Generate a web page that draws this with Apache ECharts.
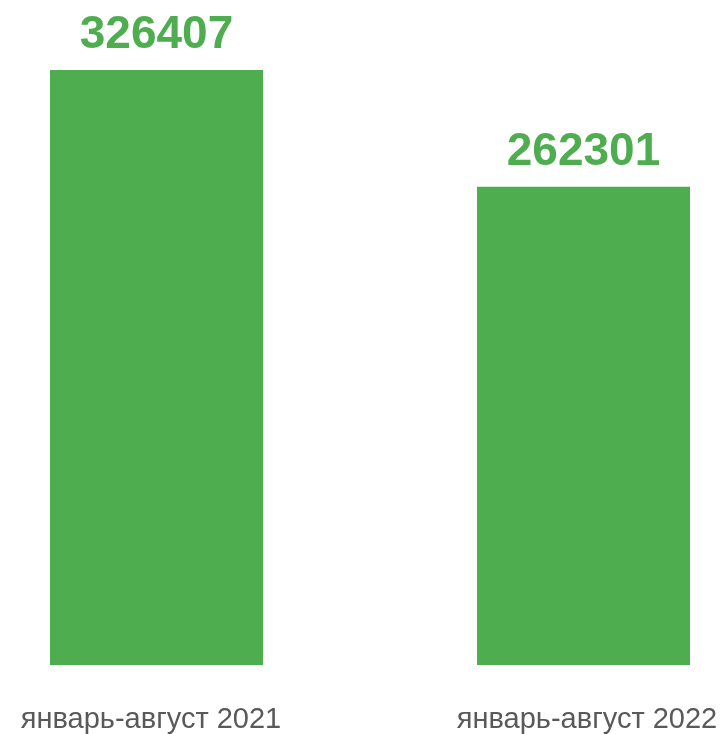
<!DOCTYPE html>
<html><head><meta charset="utf-8">
<script src="https://cdn.jsdelivr.net/npm/echarts@6/dist/echarts.min.js"></script>
<style>html,body{margin:0;padding:0;background:#fff;overflow:hidden;width:726px;height:734px;position:relative}#c{position:absolute;left:-57px;top:0;width:854px;height:734px}</style>
</head><body><div id="c"></div>
<script>
const categories = ['январь-август 2021', 'январь-август 2022'];
const values = [326407, 262301];

const chart = echarts.init(document.getElementById('c'));
const lbl = { color: '#595959', fontSize: 29, fontFamily: 'Liberation Sans, Arial' };
chart.setOption({
  animation: false,
  grid: { left: 0, right: 0, top: 70, bottom: 68 },
  xAxis: {
    type: 'category', data: categories,
    axisLine: { show: false }, axisTick: { show: false },
    axisLabel: {
      margin: 40, interval: 0,
      formatter: function (v, i) { return i === 0 ? '{a|' + v + '}' : '{b|' + v + '}'; },
      rich: {
        a: Object.assign({ padding: [0, 11, 0, 0] }, lbl),
        b: Object.assign({ padding: [0, 0, 0, 7] }, lbl)
      }
    }
  },
  yAxis: { type: 'value', min: 0, max: 326407, show: false, splitLine: { show: false } },
  series: [{
    type: 'bar', data: values, barWidth: 213,
    itemStyle: { color: '#4EAE4F' },
    label: { show: true, position: 'top', distance: 12, color: '#4EAE4F', fontSize: 46, fontWeight: 'bold', fontFamily: 'Liberation Sans, Arial' }
  }]
});
</script></body></html>
